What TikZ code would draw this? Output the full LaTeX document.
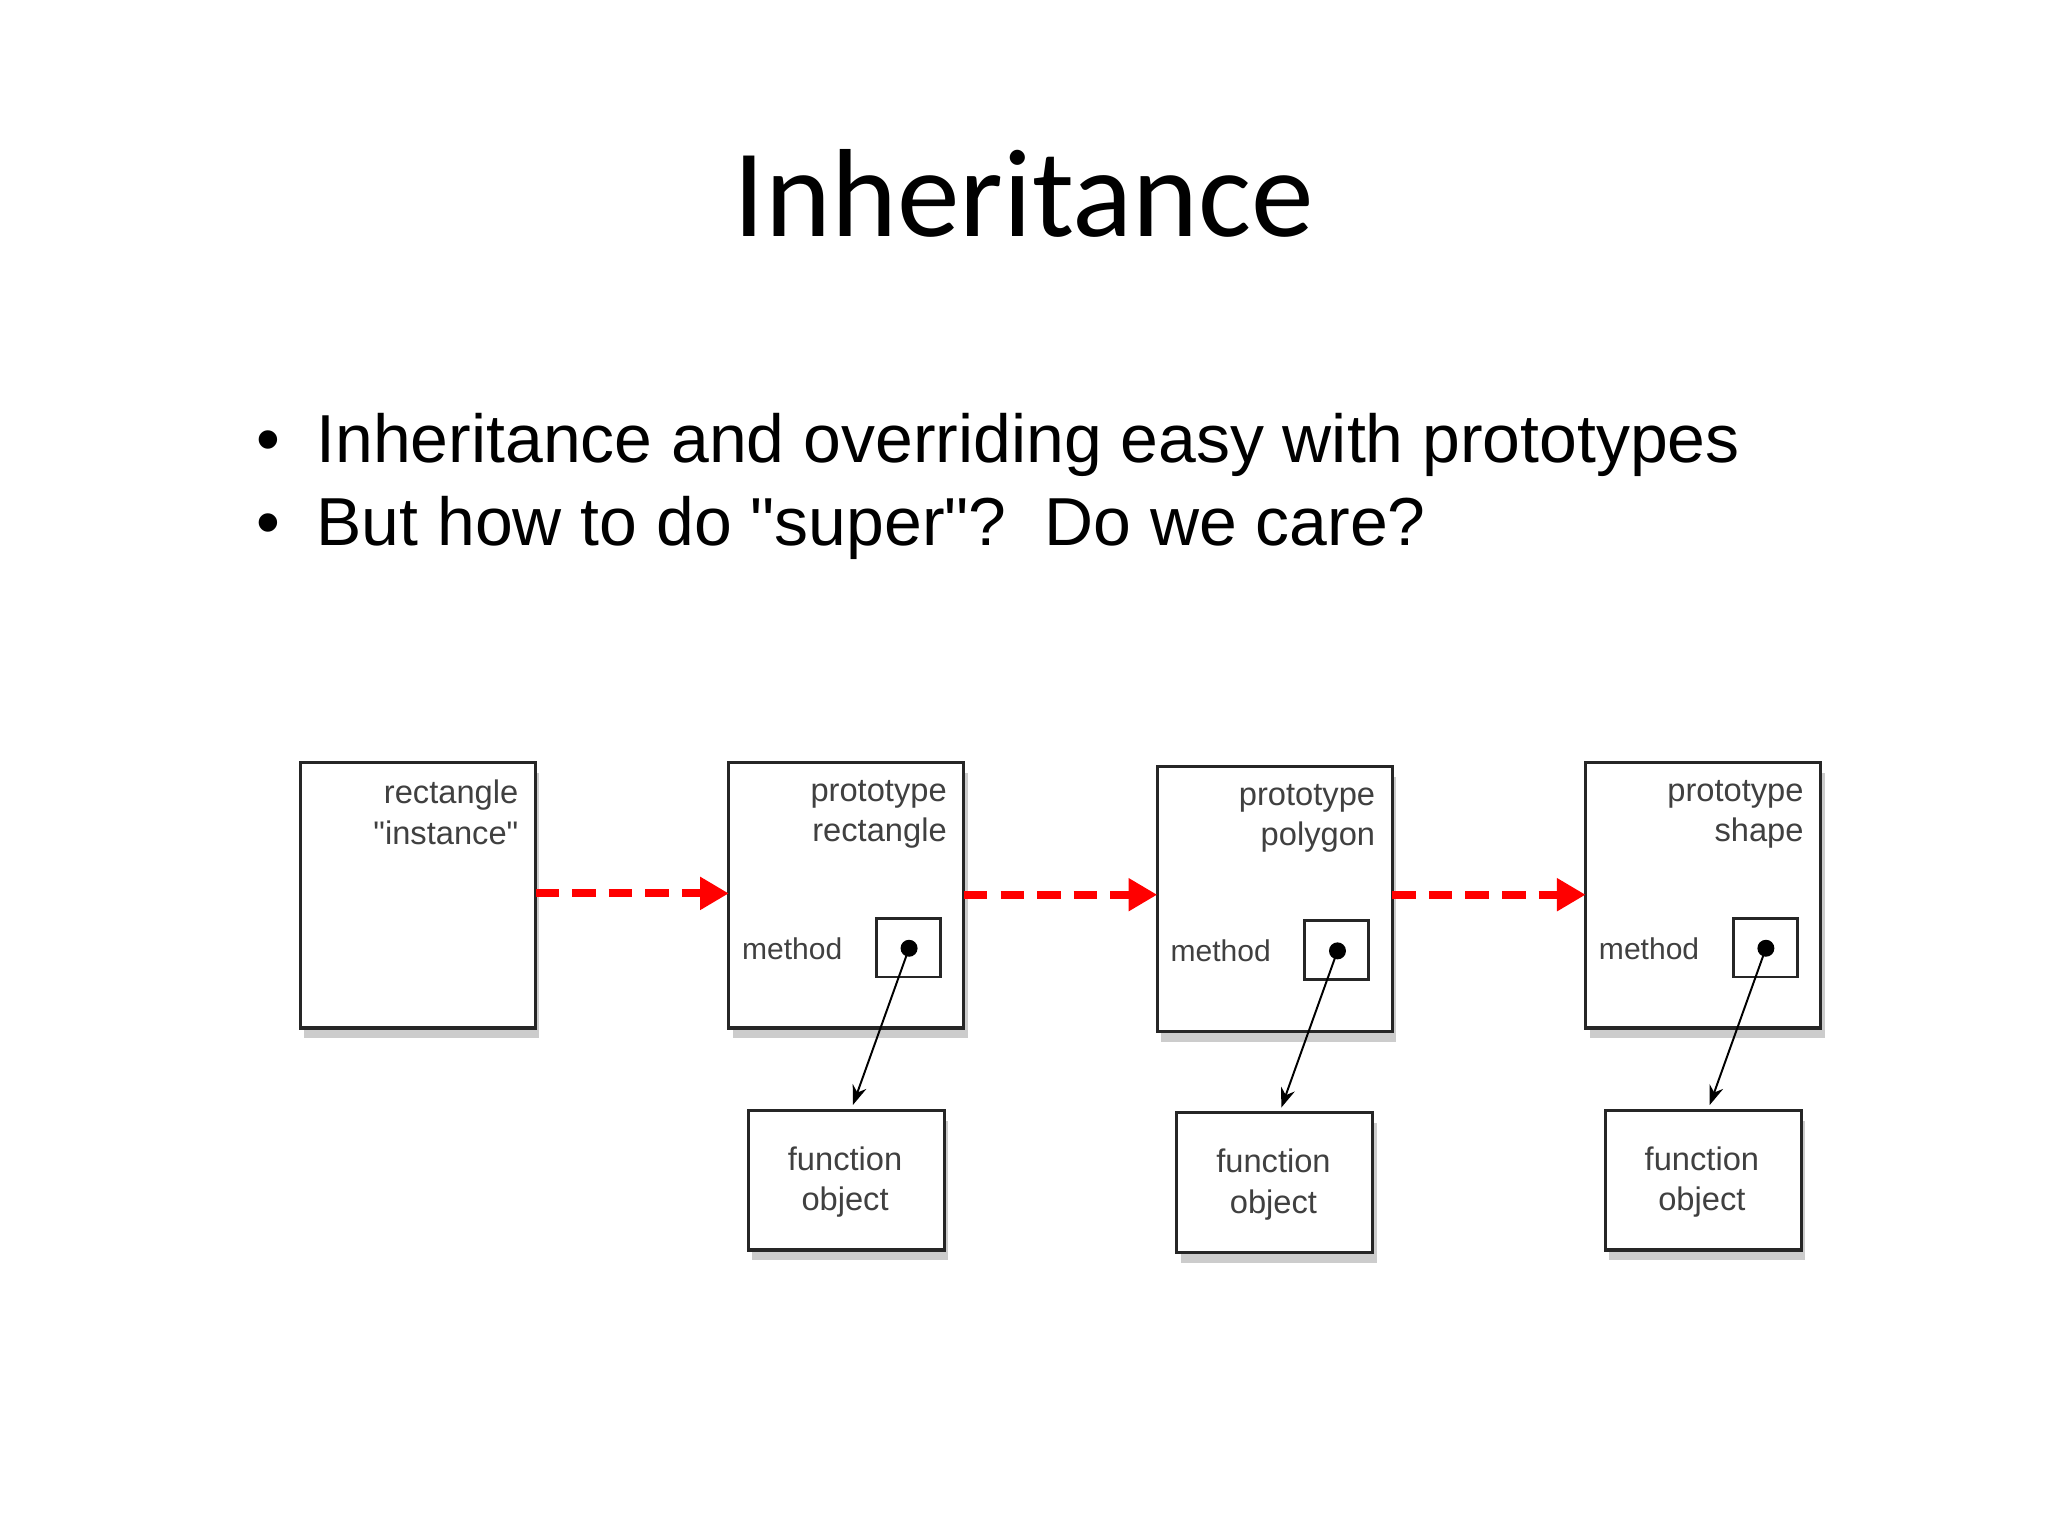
\documentclass[tikz,border=0pt]{standalone}
\usepackage{fontspec}
\setmainfont{Liberation Sans}
\newfontfamily\titlefont{Carlito}
\usetikzlibrary{shadows,arrows.meta}
\begin{document}
\begin{tikzpicture}[x=1pt,y=-1pt,
  obj/.style={draw=black!85,line width=2.4pt,fill=white,drop shadow={shadow xshift=3pt,shadow yshift=-8pt,opacity=0.4}},
  lbl/.style={font=\fontsize{25}{31}\selectfont,text=black!75,align=right,anchor=north east,inner sep=0},
  inh/.style={red,line width=6pt,dash pattern=on 18pt off 10pt,-{Triangle[length=22pt,width=24pt]}},
  ptr/.style={line width=1.5pt,-{Stealth[length=15pt,width=11pt]}}]
\useasboundingbox (0,0) rectangle (1568,1176);
\node[font=\titlefont\fontsize{96}{100}\selectfont] (title) at (784,148) {Inheritance};
\node[anchor=west,inner sep=0,font=\fontsize{52}{60}\selectfont] (b1) at (196,341) {•\hspace{28pt}Inheritance and overriding easy with prototypes};
\node[anchor=west,inner sep=0,font=\fontsize{52}{60}\selectfont] (b2) at (196,404) {•\hspace{28pt}But how to do \textquotedbl super\textquotedbl?\ \ Do we care?};
% boxes
\path[obj] (230,584) rectangle (410,787);
\path[obj] (558,584) rectangle (738,787);
\path[obj] (886,587) rectangle (1066,790);
\path[obj] (1214,584) rectangle (1394,787);
\path[obj] (573,850) rectangle (723,957);
\path[obj] (901,852) rectangle (1051,959);
\path[obj] (1229,850) rectangle (1379,957);
\coordinate (A1) at (410,684); \coordinate (A2) at (558,684);
\coordinate (A3) at (738,685); \coordinate (A4) at (886,685);
\coordinate (A5) at (1066,685); \coordinate (A6) at (1214,685);
\node[lbl] (l1) at (397,597) {rectangle\\\textquotedbl instance\textquotedbl};
\node[lbl] (l2) at (725,597) {prototype\\rectangle};
\node[lbl] (l3) at (1053,600) {prototype\\polygon};
\node[lbl] (l4) at (1381,597) {prototype\\shape};
\node[anchor=west,inner sep=0,font=\fontsize{23}{28}\selectfont,text=black!75] (m1) at (568,726) {method};
\node[anchor=west,inner sep=0,font=\fontsize{23}{28}\selectfont,text=black!75] (m2) at (896,728) {method};
\node[anchor=west,inner sep=0,font=\fontsize{23}{28}\selectfont,text=black!75] (m3) at (1224,726) {method};
\draw[line width=2.2pt,draw=black!85] (671,703) rectangle (720,748);
\draw[line width=2.2pt,draw=black!85] (999,705) rectangle (1048,750);
\draw[line width=2.2pt,draw=black!85] (1327,703) rectangle (1376,748);
\fill (696,726) circle (6.5pt) coordinate (d1);
\fill (1024,728) circle (6.5pt) coordinate (d2);
\fill (1352,726) circle (6.5pt) coordinate (d3);
\node[align=center,font=\fontsize{25}{31}\selectfont,text=black!75] (f1) at (647,905) {function\\object};
\node[align=center,font=\fontsize{25}{31}\selectfont,text=black!75] (f2) at (975,907) {function\\object};
\node[align=center,font=\fontsize{25}{31}\selectfont,text=black!75] (f3) at (1303,905) {function\\object};
\coordinate (t1) at (653,846); \coordinate (t2) at (981,848); \coordinate (t3) at (1309,846);
\draw[ptr] (d1) -- (t1);
\draw[ptr] (d2) -- (t2);
\draw[ptr] (d3) -- (t3);
\draw[inh] (A1) -- (A2);
\draw[inh] (A3) -- (A4);
\draw[inh] (A5) -- (A6);
\end{tikzpicture}
\end{document}
